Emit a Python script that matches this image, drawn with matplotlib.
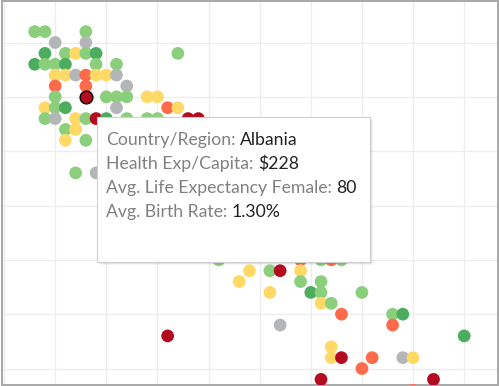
import matplotlib
matplotlib.use("Agg")
import matplotlib.pyplot as plt
from matplotlib.patches import Rectangle

# ---- data: x = avg. birth rate (%), y = avg. life expectancy female, colour = health exp group
birth_rate = [0.8, 0.9, 1.3,
              1.0, 1.3,
              0.9, 1.1, 1.2, 1.3, 1.4, 2.2,
              0.8, 0.9, 1.0, 1.1, 1.4, 1.6,
              1.0, 1.1, 1.2, 1.3, 1.4, 1.5, 1.6,
              1.7, 1.0, 1.3,
              1.0, 1.5, 1.6, 1.7, 1.9, 2.0,
              0.9, 1.0, 1.1, 1.6, 2.1, 2.2,
              0.9, 1.0, 1.2, 1.3, 1.4, 1.5, 1.7, 1.9, 2.0, 2.3, 2.4,
              1.1, 1.2,
              1.1, 1.3,
              1.2, 1.4,
              2.6, 3.4, 3.6, 3.7, 3.8,
              2.9, 3.1, 3.2, 3.4,
              2.8, 3.4, 3.6,
              3.1, 3.5, 3.6, 4.0,
              3.6, 3.7,
              3.8, 4.3, 4.4,
              3.2, 4.3,
              2.1, 5.0,
              3.7,
              3.7, 3.8, 4.1, 4.4, 4.5,
              4.0,
              3.6, 4.7,
              4.5]
life_exp = [86, 86, 86,
            85, 85,
            84, 84, 84, 84, 84, 84,
            83, 83, 83, 83, 83, 83,
            82, 82, 82, 82, 82, 82, 82,
            81, 81, 81,
            80, 80, 80, 80, 80, 80,
            79, 79, 79, 79, 79, 79,
            78, 78, 78, 78, 78, 78, 78, 78, 78, 78, 78,
            77, 77,
            76, 76,
            73, 73,
            65, 65, 65, 65, 65,
            64, 64, 64, 64,
            63, 63, 63,
            62, 62, 62, 62,
            61, 61,
            60, 60, 60,
            59, 59,
            58, 58,
            57,
            56, 56, 56, 56, 56,
            55,
            54, 54,
            53]
health_group = ["LG", "LG", "LG",
                "GR", "GR",
                "DG", "LG", "Y", "LG", "DG", "LG",
                "DG", "LG", "LG", "DG", "LG", "LG",
                "Y", "Y", "GR", "O", "Y", "Y", "GR",
                "GR", "O", "O",
                "LG", "LG", "LG", "LG", "Y", "Y",
                "Y", "LG", "DG", "GR", "O", "Y",
                "LG", "GR", "Y", "LG", "DR", "DG", "LG", "LG", "LG", "DR", "DR",
                "LG", "Y",
                "Y", "LG",
                "LG", "GR",
                "LG", "O", "LG", "O", "LG",
                "Y", "LG", "DR", "Y",
                "Y", "LG", "LG",
                "Y", "DG", "LG", "LG",
                "Y", "LG",
                "O", "LG", "DG",
                "GR", "O",
                "DR", "DG",
                "Y",
                "Y", "DR", "O", "GR", "Y",
                "O",
                "DR", "DR",
                "O"]

sel_country = "Albania"
sel_birth = 1.3
sel_life = 80
sel_health = "$228"
sel_group = "DR"

palette = {"DR": "#B30B1F", "O": "#FF6A4D", "Y": "#FFD966",
           "LG": "#8BCF7C", "DG": "#4CAD5F", "GR": "#B3B6B7"}

W, H = 499, 386
fig = plt.figure(figsize=(W / 100, H / 100), dpi=100)
fig.patch.set_facecolor("white")


def fx(px):
    return px / W


def fy(py):
    return 1 - py / H


ax = fig.add_axes([fx(1.5), fy(384.5), fx(497.5) - fx(1.5), fy(1) - fy(384.5)])
ax.set_xlim(0.475, 5.326)
ax.set_ylim(53.53, 88.82)
ax.set_xticks([0.5 + 0.5 * i for i in range(10)])
ax.set_yticks([55, 60, 65, 70, 75, 80, 85])
ax.grid(True, color="#EDEDED", linewidth=1.0)
ax.set_axisbelow(True)
ax.tick_params(length=0, labelbottom=False, labelleft=False)
for s in ax.spines.values():
    s.set_color("#A8A8A8")
    s.set_linewidth(1.4)

ax.scatter(birth_rate, life_exp, s=84, c=[palette[g] for g in health_group],
           linewidths=0, zorder=3)
ax.scatter([sel_birth], [sel_life], s=84, c=[palette[sel_group]],
           edgecolors="black", linewidths=1.0, zorder=4)

# ---- tooltip
x0, y0, x1, y1 = 97, 117, 370, 262
for i, a in enumerate([0.10, 0.07, 0.04]):
    fig.patches.append(Rectangle((fx(x0 + 1 + i), fy(y1 + 1 + i)), fx(x1 - x0), fy(y0) - fy(y1),
                                 transform=fig.transFigure, facecolor="black", alpha=a,
                                 edgecolor="none", zorder=9))
fig.patches.append(Rectangle((fx(x0), fy(y1)), fx(x1 - x0), fy(y0) - fy(y1),
                             transform=fig.transFigure, facecolor="white",
                             edgecolor="#CFCFCF", linewidth=0.8, zorder=10))

family = ["Lato", "DejaVu Sans"]
renderer = fig.canvas.get_renderer()
probe = fig.text(0, 0, "Avg. Life Expectancy Female: 80", fontsize=12, family=family)
wpx = probe.get_window_extent(renderer).width
probe.remove()
fs = 12 * 251 / wpx

lines = [("Country/Region:", sel_country),
         ("Health Exp/Capita:", sel_health),
         ("Avg. Life Expectancy Female:", f"{sel_life}"),
         ("Avg. Birth Rate:", f"{sel_birth:.2f}%")]
label_col = "#808080"
value_col = "#222222"
for k, (lab, val) in enumerate(lines):
    base = 145 + 24 * k
    fig.text(fx(106), fy(base), lab, fontsize=fs, family=family, color=label_col,
             va="baseline", ha="left", zorder=11)
    pf = fig.text(0, 0, lab + " " + val, fontsize=fs, family=family)
    pv = fig.text(0, 0, val, fontsize=fs, family=family)
    wf = pf.get_window_extent(renderer).width
    wv = pv.get_window_extent(renderer).width
    pf.remove()
    pv.remove()
    fig.text(fx(106 + wf - wv), fy(base), val, fontsize=fs, family=family, color=value_col,
             va="baseline", ha="left", zorder=11)

fig.savefig("out.png", dpi=100)
